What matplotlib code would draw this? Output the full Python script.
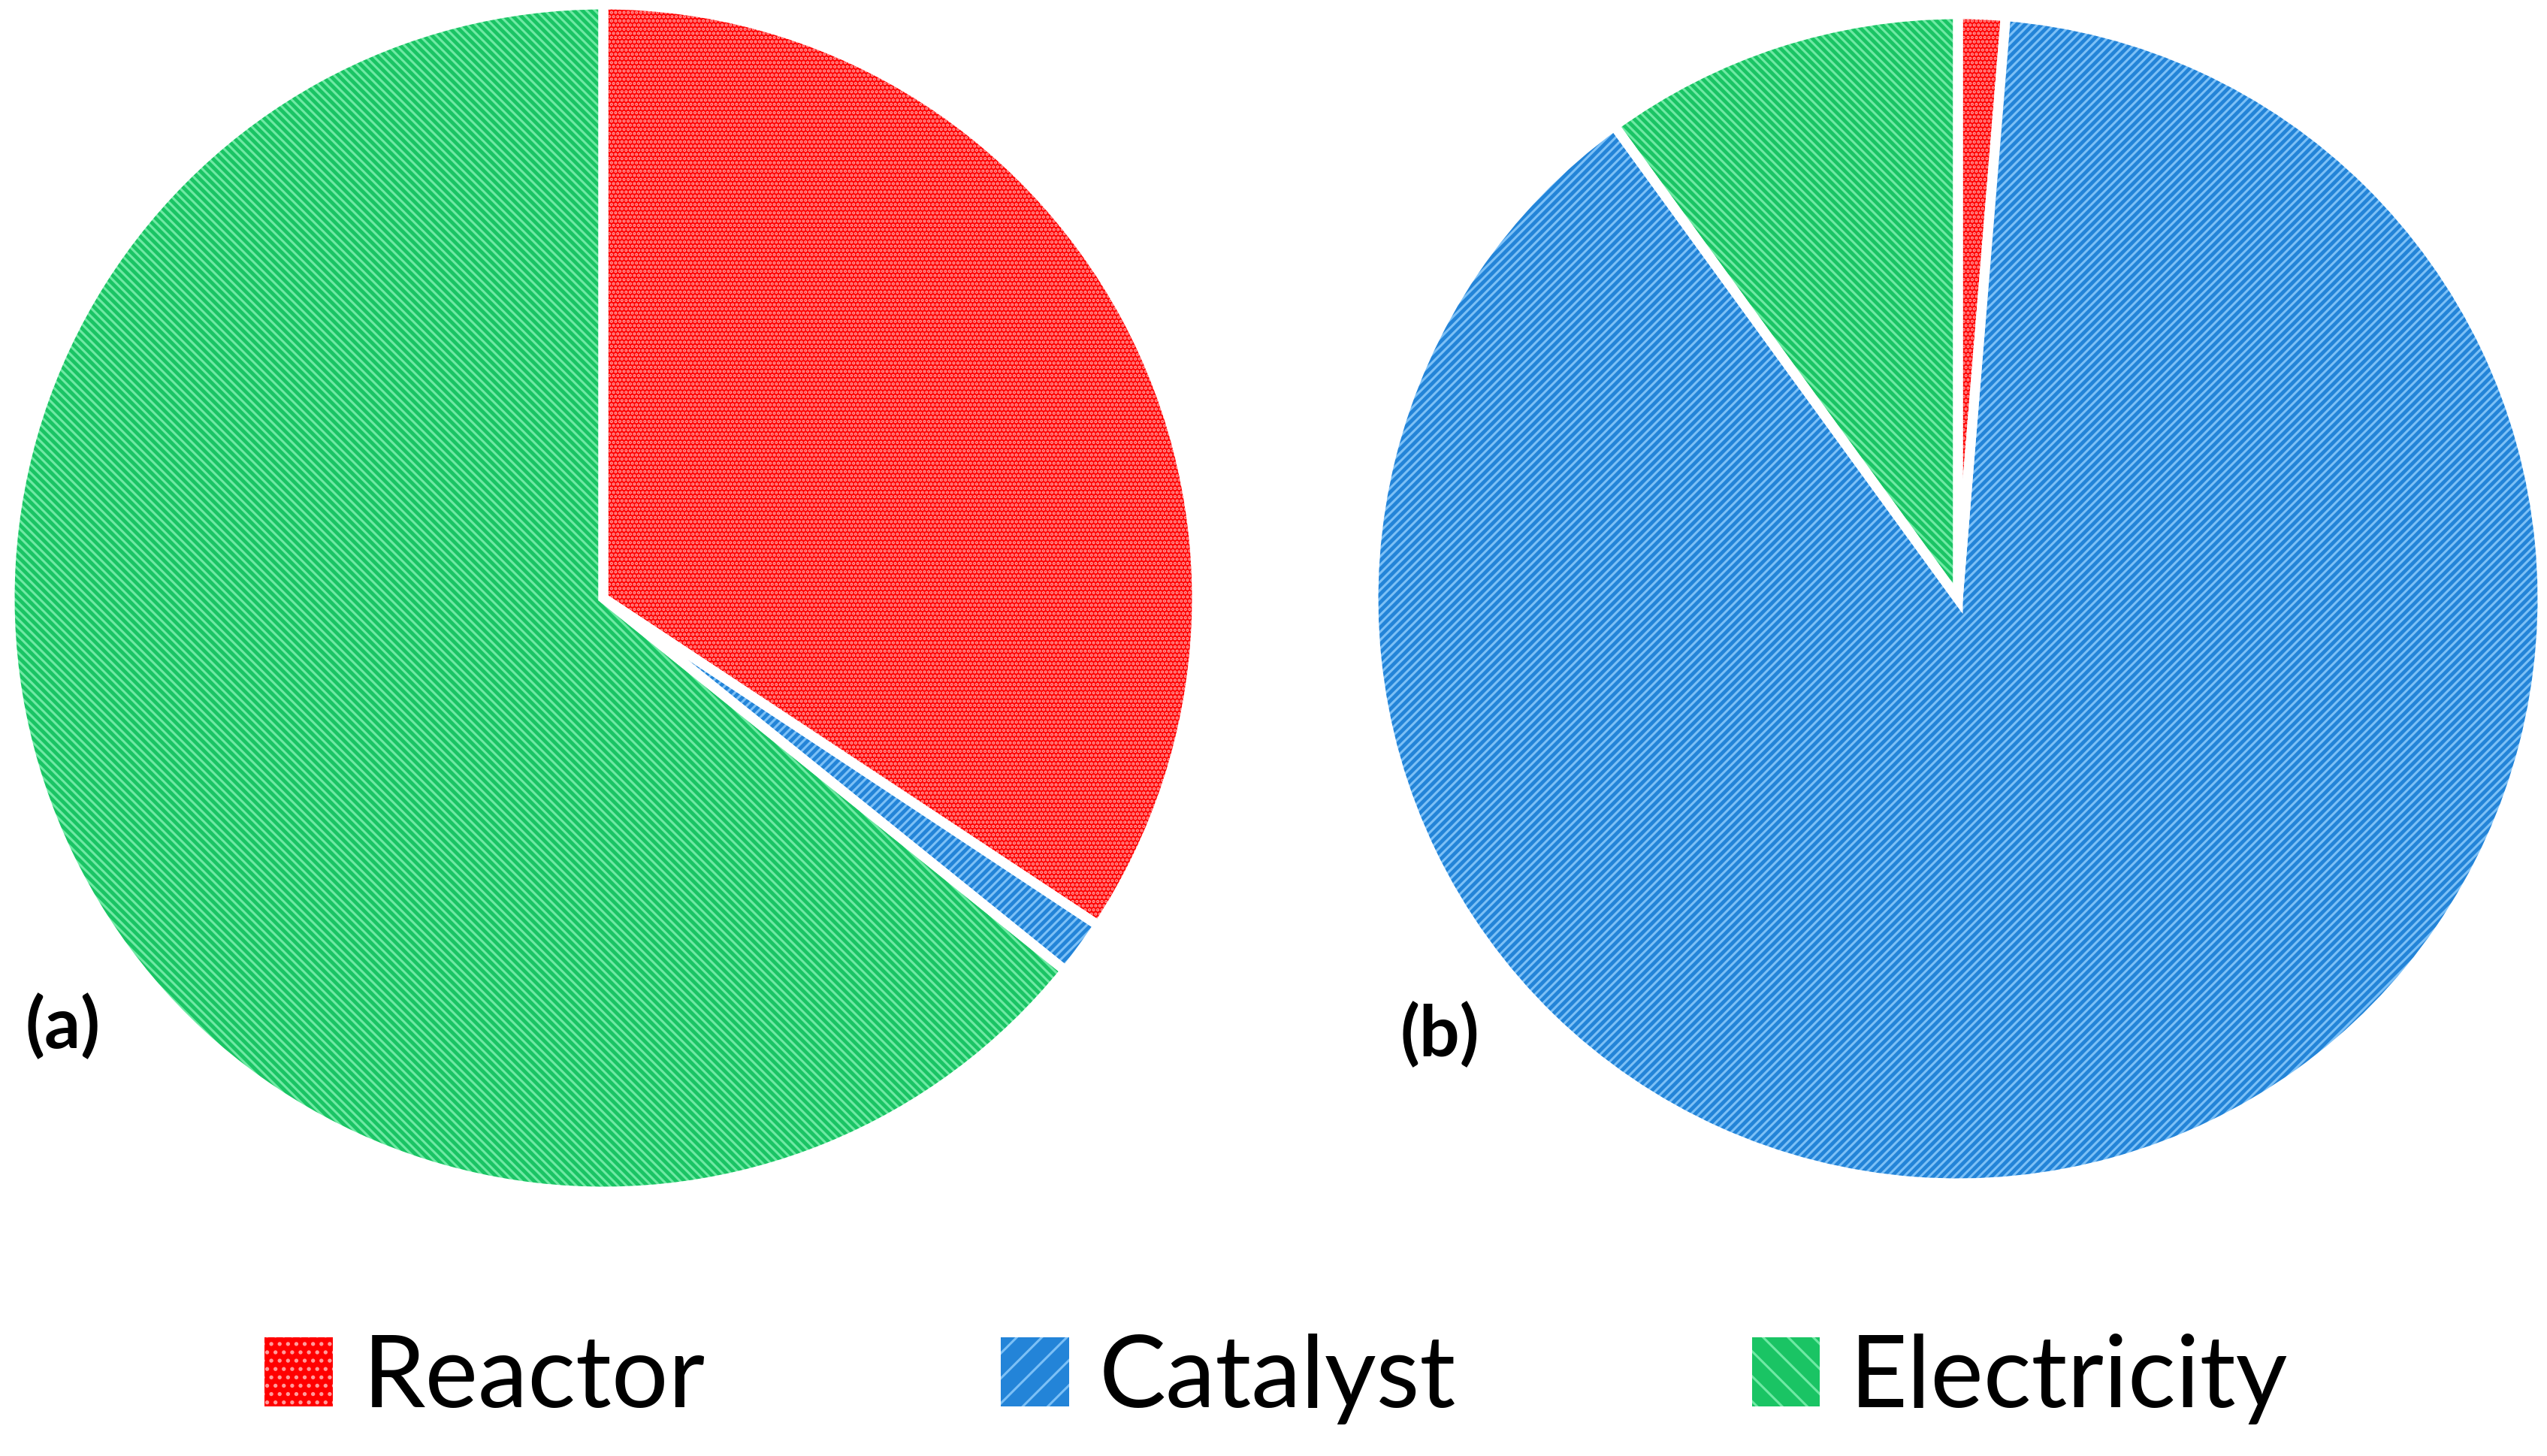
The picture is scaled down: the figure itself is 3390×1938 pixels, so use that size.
import matplotlib.pyplot as plt
from matplotlib.patches import Patch

# cost shares (%)
labels = ["Reactor", "Catalyst", "Electricity"]
share_a = [34.3, 1.5, 64.2]
share_b = [1.3, 88.7, 10.0]

face = ["#ff0000", "#2384d8", "#1ac464"]
stripe = ["#ff9c9c", "#7cc0f6", "#6fe9a4"]
hatches = ["......", "//////", "\\\\\\\\\\\\"]

plt.rcParams["hatch.linewidth"] = 1.1
plt.rcParams["font.family"] = ["Lato", "DejaVu Sans"]

W, H = 3391, 1938
fig = plt.figure(figsize=(W / 200, H / 200), dpi=200)
ax = fig.add_axes([0, 0, 1, 1])


def draw_pie(vals, center, radius):
    wedges, _ = ax.pie(vals, colors=face, center=center, radius=radius,
                       startangle=90, counterclock=False,
                       wedgeprops=dict(linewidth=0))
    for w, h, c in zip(wedges, hatches, stripe):
        w.set_hatch(h)
        w.set_edgecolor(c)
        w.set_linewidth(0)
    # white separators on top
    ax.pie(vals, center=center, radius=radius, startangle=90,
           counterclock=False,
           wedgeprops=dict(fill=False, edgecolor="white", linewidth=4.7))


draw_pie(share_a, (803, H - 796), 790)
draw_pie(share_b, (2606, H - 797), 778)

ax.text(84, H - 1367, "(a)", ha="center", va="center", fontsize=34,
        fontweight="bold")
ax.text(1916, H - 1378, "(b)", ha="center", va="center", fontsize=34,
        fontweight="bold")

ax.set_xlim(0, W)
ax.set_ylim(0, H)
ax.set_aspect("equal", adjustable="datalim")
ax.axis("off")

leg_hatch = ["...", "//", "\\\\"]
handles = [Patch(facecolor=f, edgecolor=s, hatch=h, linewidth=0, label=l)
           for f, s, h, l in zip(face, stripe, leg_hatch, labels)]
fig.legend(handles=handles, loc="center", bbox_to_anchor=(0.501, 0.053),
           ncol=3, frameon=False, fontsize=48, handlelength=0.68,
           handleheight=0.68, handletextpad=0.3, columnspacing=2.95)

fig.savefig("out.png", dpi=200, facecolor="white")
